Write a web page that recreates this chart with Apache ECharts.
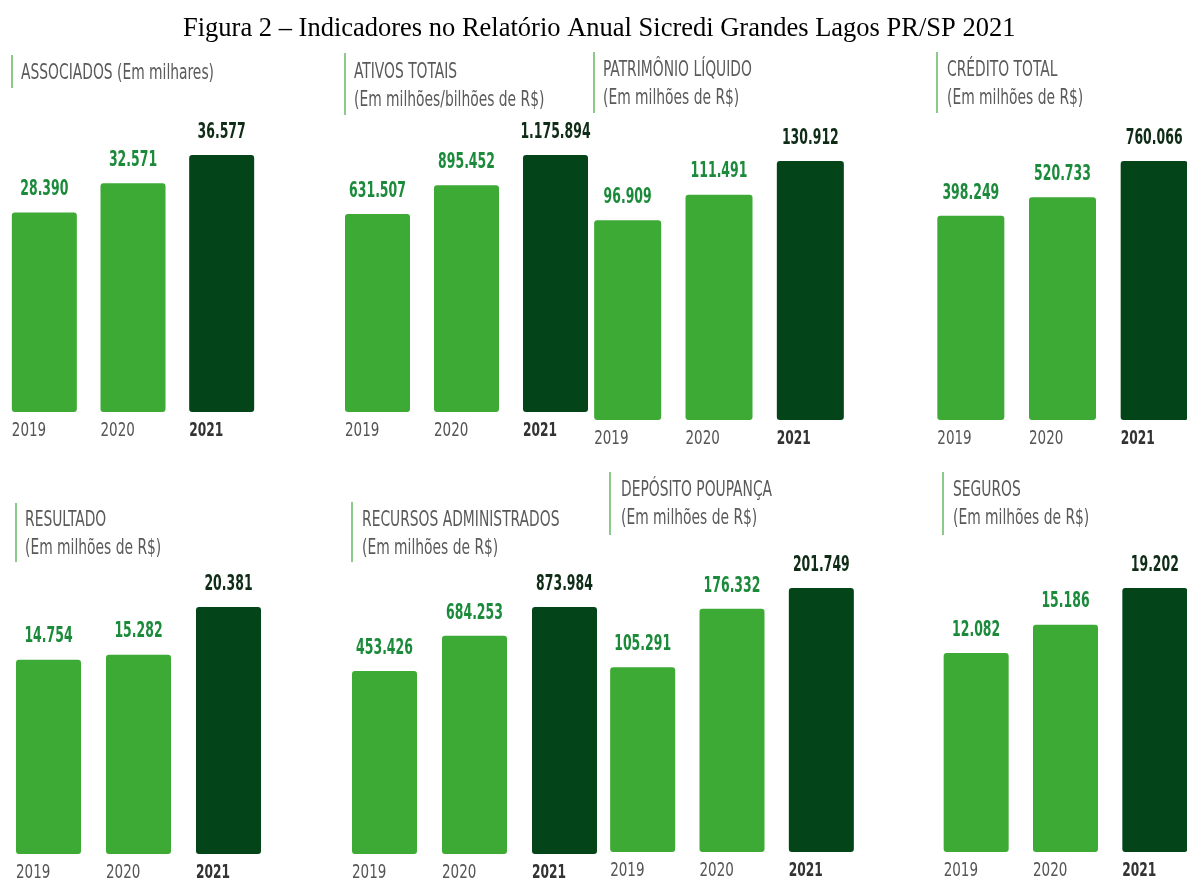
<!DOCTYPE html>
<html><head><meta charset="utf-8">
<script src="https://cdn.jsdelivr.net/npm/echarts@6/dist/echarts.min.js"></script>
<style>html,body{margin:0;padding:0;background:#fff}#c{width:1187px;height:882px}</style>
</head><body><div id="c"></div>
<script>
// ---- data ----
const figureTitle = 'Figura 2 – Indicadores no Relatório Anual Sicredi Grandes Lagos PR/SP 2021';
const years = ['2019', '2020', '2021'];
const indicatorNames = [
  'ASSOCIADOS (Em milhares)',
  'ATIVOS TOTAIS\n(Em milhões/bilhões de R$)',
  'PATRIMÔNIO LÍQUIDO\n(Em milhões de R$)',
  'CRÉDITO TOTAL\n(Em milhões de R$)',
  'RESULTADO\n(Em milhões de R$)',
  'RECURSOS ADMINISTRADOS\n(Em milhões de R$)',
  'DEPÓSITO POUPANÇA\n(Em milhões de R$)',
  'SEGUROS\n(Em milhões de R$)'
];
const associados = [28390, 32571, 36577];
const ativosTotais = [631507, 895452, 1175894];
const patrimonioLiquido = [96909, 111491, 130912];
const creditoTotal = [398249, 520733, 760066];
const resultado = [14754, 15282, 20381];
const recursosAdministrados = [453426, 684253, 873984];
const depositoPoupanca = [105291, 176332, 201749];
const seguros = [12082, 15186, 19202];
const indicatorValues = [associados, ativosTotais, patrimonioLiquido, creditoTotal,
  resultado, recursosAdministrados, depositoPoupanca, seguros];

// ---- layout (positions / axis baselines only) ----
const layout = [
  {gx: 0,     gw: 266, gt: 155, gh: 257, bw: 65, min: 0,        lx: 12,  ly: [55, 88],   tx: 21,  ty: 59},
  {gx: 333,   gw: 267, gt: 155, gh: 257, bw: 65, min: -1200000, lx: 345, ly: [53, 115],  tx: 354, ty: 58},
  {gx: 582,   gw: 274, gt: 161, gh: 259, bw: 67, min: -18000,   lx: 594, ly: [52, 113],  tx: 603, ty: 56},
  {gx: 925,   gw: 275, gt: 161, gh: 259, bw: 67, min: -950000,  lx: 937, ly: [52, 113],  tx: 947, ty: 56},
  {gx: 3.5,   gw: 270, gt: 607, gh: 247, bw: 65, min: -6000,    lx: 16,  ly: [503, 562], tx: 25,  ty: 506},
  {gx: 339.5, gw: 270, gt: 607, gh: 247, bw: 65, min: -750000,  lx: 352, ly: [502, 562], tx: 362, ty: 506},
  {gx: 598,   gw: 268, gt: 588, gh: 264, bw: 65, min: -120000,  lx: 610, ly: [472, 535], tx: 621, ty: 476},
  {gx: 931.5, gw: 268, gt: 588, gh: 264, bw: 65, min: -9700,    lx: 943, ly: [472, 535], tx: 953, ty: 476}
];

const COND = '"DejaVu Sans Condensed", "DejaVu Sans", sans-serif';
const LIGHT = '#3daa35', DARK = '#034418';
const LABEL_GREEN = '#1b8a3a', LABEL_DARK = '#0f2c16';

function fmt(v) { return String(Math.round(v)).replace(/\B(?=(\d{3})+(?!\d))/g, '.'); }

const grids = [], xAxes = [], yAxes = [], series = [], graphics = [];

layout.forEach((p, i) => {
  const vals = indicatorValues[i];
  grids.push({left: p.gx, top: p.gt, width: p.gw, height: p.gh, containLabel: false, outerBoundsMode: 'none'});
  xAxes.push({
    type: 'category', gridIndex: i, data: years, boundaryGap: true,
    axisLine: {show: false}, axisTick: {show: false}, axisLabel: {show: false}
  });
  yAxes.push({type: 'value', gridIndex: i, show: false, min: p.min, max: Math.max(...vals)});
  series.push({
    type: 'custom', xAxisIndex: i, yAxisIndex: i,
    data: vals.map((v, k) => [k, v]),
    encode: {x: 0, y: 1},
    renderItem: (params, api) => {
      const k = params.dataIndex;
      const v = api.value(1);
      const top = api.coord([k, v]);
      const base = api.coord([k, p.min]);
      const last = k === 2;
      const left = top[0] - p.bw / 2;
      return {
        type: 'group',
        children: [
          {
            type: 'rect',
            shape: {x: left, y: top[1], width: p.bw, height: base[1] - top[1], r: 3},
            style: {fill: last ? DARK : LIGHT}
          },
          {
            type: 'text', x: top[0], y: top[1] - 23, scaleX: 0.63,
            style: {text: fmt(v), align: 'center', verticalAlign: 'middle',
              fill: last ? LABEL_DARK : LABEL_GREEN, fontFamily: COND, fontSize: 22, fontWeight: 'bold'}
          },
          {
            type: 'text', x: left, y: base[1] + 19, scaleX: last ? 0.68 : 0.75,
            style: {text: years[k], align: 'left', verticalAlign: 'middle',
              fill: last ? '#333' : '#555', fontFamily: COND, fontSize: 20, fontWeight: last ? 'bold' : 'normal'}
          }
        ]
      };
    }
  });
  graphics.push({
    type: 'line', shape: {x1: p.lx, y1: p.ly[0], x2: p.lx, y2: p.ly[1]},
    style: {stroke: '#8cc98a', lineWidth: 2}
  });
  graphics.push({
    type: 'text', x: p.tx, y: p.ty, scaleX: 0.7,
    style: {text: indicatorNames[i], align: 'left', verticalAlign: 'top', lineHeight: 28,
      fill: '#5a5a5a', fontFamily: COND, fontSize: 22, fontWeight: 'normal'}
  });
});

const chart = echarts.init(document.getElementById('c'), null, {renderer: 'canvas'});
chart.setOption({
  backgroundColor: '#fff',
  animation: false,
  title: {
    text: figureTitle, left: 183, top: 16, padding: 0,
    textStyle: {fontFamily: '"Liberation Serif", "Times New Roman", serif', fontSize: 26.5, fontWeight: 'normal', color: '#000'}
  },
  grid: grids,
  xAxis: xAxes,
  yAxis: yAxes,
  series: series,
  graphic: graphics
});
</script></body></html>
